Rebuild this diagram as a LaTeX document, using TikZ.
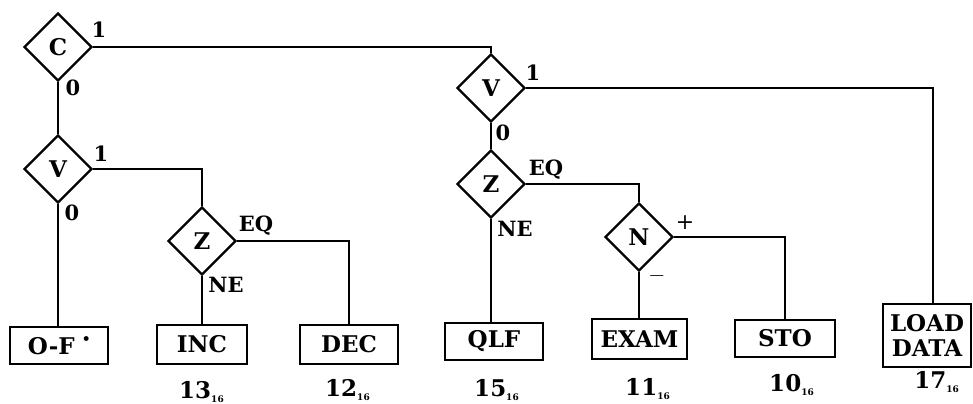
\documentclass[tikz,border=0pt]{standalone}
\usepackage{fontspec}
\setmainfont{DejaVu Serif}
\usetikzlibrary{shapes.geometric,positioning}
\tikzset{
	decision/.style={diamond, draw=black, line width=1.2pt, minimum width=34pt, minimum height=34pt,
		inner sep=0pt, font=\bfseries\fontsize{11.5}{12}\selectfont},
	opbox/.style={rectangle, draw=black, line width=1.4pt, align=center, inner sep=0pt,
		font=\bfseries\fontsize{11.5}{12}\selectfont},
	branchlbl/.style={inner sep=0pt, font=\bfseries\fontsize{10.5}{11}\selectfont},
	signlbl/.style={inner sep=0pt, font=\fontsize{11}{11}\selectfont},
	hexlbl/.style={inner sep=0pt, font=\bfseries\fontsize{11.5}{12}\selectfont},
	wire/.style={draw=black, line width=1pt}
}
\newcommand{\hexsub}[1]{#1\textsubscript{\fontsize{4.5}{5}\selectfont 16}}

\begin{document}
\begin{tikzpicture}[x=0.5pt, y=-0.5pt]
			\useasboundingbox (0,0) rectangle (973,403);
			% tests
			\node[decision] (c) at (58,47) {C};
			\node[decision] (v1) at (58,169) {V};
			\node[decision] (z1) at (202,241) {Z};
			\node[decision] (v2) at (491,88) {V};
			\node[decision] (z2) at (491,184) {Z};
			\node[decision] (n) at (639,237) {N};
			% routines
			\node[opbox, minimum width=49pt, minimum height=18.5pt] (of) at (59,345.5) {O-F\ \raisebox{1.1ex}{\fontsize{5}{5}\selectfont$\bullet$}};
			\node[opbox, minimum width=45pt, minimum height=19.5pt] (inc) at (202,344.5) {INC};
			\node[opbox, minimum width=49pt, minimum height=19.5pt] (dec) at (349,344.5) {DEC};
			\node[opbox, minimum width=49pt, minimum height=18.5pt] (qlf) at (494,341.5) {QLF};
			\node[opbox, minimum width=47.5pt, minimum height=20pt] (exam) at (639.5,339) {EXAM};
			\node[opbox, minimum width=50pt, minimum height=18.5pt] (sto) at (785,338.5) {STO};
			\node[opbox, minimum width=44pt, minimum height=31.5pt] (load) at (927,335.5) {LOAD\\[0.5pt]DATA};
			% opcodes
			\node[hexlbl] (h13) at (202,392) {\hexsub{13}};
			\node[hexlbl] (h12) at (348,390) {\hexsub{12}};
			\node[hexlbl] (h15) at (497,390) {\hexsub{15}};
			\node[hexlbl] (h11) at (648,389) {\hexsub{11}};
			\node[hexlbl] (h10) at (792,385) {\hexsub{10}};
			\node[hexlbl] (h17) at (937,382) {\hexsub{17}};
			% branch labels
			\node[branchlbl] (c1) at (99,30) {1};
			\node[branchlbl] (c0) at (73,88) {0};
			\node[branchlbl] (v11) at (101,154) {1};
			\node[branchlbl] (v10) at (72,213) {0};
			\node[branchlbl] (z1eq) at (256,226) {EQ};
			\node[branchlbl] (z1ne) at (226,285) {NE};
			\node[branchlbl] (v21) at (533,73) {1};
			\node[branchlbl] (v20) at (503,133) {0};
			\node[branchlbl] (z2eq) at (546,170) {EQ};
			\node[branchlbl] (z2ne) at (515,229) {NE};
			\node[signlbl] (npos) at (685,223) {+};
			\node[signlbl] (nneg) at (657,276) {$-$};
			% connections
			\draw[wire] (c.east) -| (v2.north);
			\draw[wire] (c.south) -- (v1.north);
			\draw[wire] (v1.south) -- (v1.south |- of.north);
			\draw[wire] (v1.east) -| (z1.north);
			\draw[wire] (z1.south) -- (inc.north);
			\draw[wire] (z1.east) -| (dec.north);
			\draw[wire] (v2.south) -- (z2.north);
			\draw[wire] (z2.south) -- (z2.south |- qlf.north);
			\draw[wire] (z2.east) -| (n.north);
			\draw[wire] (n.south) -- (n.south |- exam.north);
			\draw[wire] (n.east) -| (sto.north);
			\draw[wire] (v2.east) -| ([xshift=3pt]load.north);
		\end{tikzpicture}
\end{document}
